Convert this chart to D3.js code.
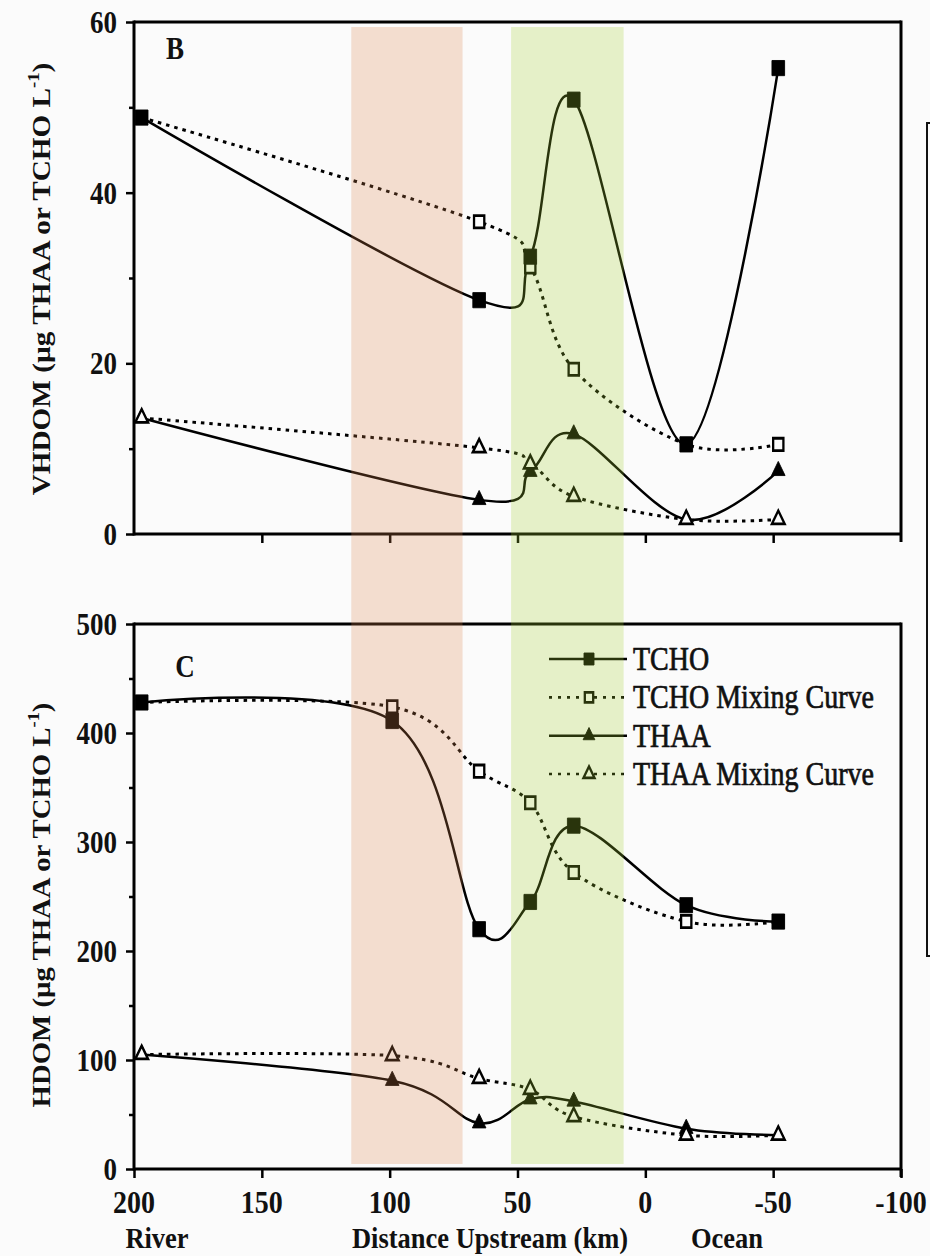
<!DOCTYPE html>
<html>
<head>
<meta charset="utf-8">
<script src="https://cdn.jsdelivr.net/npm/d3@7"></script>
<style>
  body { margin: 0; background: #fbfbfb; }
  svg { display: block; }
</style>
</head>
<body>
<script>
// ---- Panel B (VHDOM) ----
const distB      = [197, 65, 45, 28, -16, -52];
const tchoB      = [48.8, 27.4, 32.5, 50.9, 10.5, 54.6];
const tchoMixB   = [48.8, 36.6, 31.3, 19.3, 10.5, 10.5];
const thaaB      = [13.6, 4.0, 7.3, 11.7, 1.7, 7.4];
const thaaMixB   = [13.6, 10.1, 8.2, 4.4, 1.7, 1.7];

// ---- Panel C (HDOM) ----
const distC      = [197, 99, 65, 45, 28, -16, -52];
const tchoC      = [428, 411, 220, 245, 315, 242, 227];
const tchoMixC   = [428, 424, 365, 336, 272, 227, 227];
const thaaC      = [105, 81, 42, 64, 62, 37, 31];
const thaaMixC   = [105, 104, 83, 73, 48, 31, 31];

// ---- Axes ----
const xTickValues  = [200, 150, 100, 50, 0, -50, -100];
const xTickLabels  = ["200", "150", "100", "50", "0", "-50", "-100"];
const xCaptions    = ["River", "Distance Upstream (km)", "Ocean"];
const yMajorB = [0, 20, 40, 60];
const yMinorB = [10, 30, 50];
const yMajorC = [0, 100, 200, 300, 400, 500];
const yMinorC = [50, 150, 250, 350, 450];

// ---- Highlighted river reaches (km upstream) ----
const reachPeach = [115, 71.5];
const reachGreen = [52.5, 8.5];

const legendLabels = ["TCHO", "TCHO Mixing Curve", "THAA", "THAA Mixing Curve"];

const W = 930, H = 1256;
const FONT = "'Liberation Serif', 'Times New Roman', serif";
const STRETCH = 1.2;   // glyphs and markers are drawn taller than wide

const svg = d3.select("body").append("svg").attr("width", W).attr("height", H);
svg.append("rect").attr("width", W).attr("height", H).attr("fill", "#fbfbfb");

const x = d3.scaleLinear().domain([200, -100]).range([134, 901]);

// horizontal text, stretched vertically about its baseline
function label(g, tx, ty, str, size, opts = {}) {
  const t = g.append("g")
    .attr("transform", `translate(${tx},${ty}) scale(1,${opts.stretch || STRETCH})`)
    .append("text")
    .attr("text-anchor", opts.anchor || "middle")
    .attr("font-family", FONT).attr("font-size", size)
    .attr("font-weight", opts.weight || "bold")
    .attr("fill", "#111")
    .text(str);
  if (opts.stroke) t.attr("stroke", "#111").attr("stroke-width", opts.stroke);
  return t;
}

const panels = [
  {
    y: d3.scaleLinear().domain([0, 60]).range([534, 22]),
    dist: distB,
    tcho: tchoB, tchoMix: tchoMixB, thaa: thaaB, thaaMix: thaaMixB,
    major: yMajorB, minor: yMinorB,
    letter: "B", letterPos: [175, 59],
    title: "VHDOM (µg THAA or TCHO L", titleLen: 433, titlePos: [50, 279],
    labels: false
  },
  {
    y: d3.scaleLinear().domain([0, 500]).range([1169, 624]),
    dist: distC,
    tcho: tchoC, tchoMix: tchoMixC, thaa: thaaC, thaaMix: thaaMixC,
    major: yMajorC, minor: yMinorC,
    letter: "C", letterPos: [185, 677],
    title: "HDOM (µg THAA or TCHO L", titleLen: 405, titlePos: [50, 905],
    labels: true
  }
];

function drawMarker(g, type, filled, cx, cy, big) {
  const size = type === "square"
    ? (filled ? (big ? 160 : 100) : (big ? 105 : 70))
    : (filled ? (big ? 80 : 60) : (big ? 70 : 52));
  const sym = type === "square" ? d3.symbolSquare : d3.symbolTriangle;
  g.append("path")
    .attr("d", d3.symbol(sym, size)())
    .attr("transform", `translate(${cx},${cy}) scale(1,${STRETCH})`)
    .attr("fill", filled ? "#000" : "#fbfbfb")
    .attr("stroke", "#000")
    .attr("stroke-width", filled ? 0.8 : 2.3);
}

panels.forEach(p => {
  const g = svg.append("g");
  const [y0, y1] = p.y.range();
  const left = x.range()[0], right = x.range()[1];

  // minor y ticks
  const gm = g.append("g").attr("transform", `translate(${left},0)`)
    .call(d3.axisLeft(p.y).tickValues(p.minor).tickSize(5).tickFormat(""));
  gm.select(".domain").remove();
  gm.selectAll("line").attr("stroke", "#000").attr("stroke-width", 2.5);

  // major y ticks
  const gy = g.append("g").attr("transform", `translate(${left},0)`)
    .call(d3.axisLeft(p.y).tickValues(p.major).tickSize(8).tickFormat(""));
  gy.select(".domain").remove();
  gy.selectAll("line").attr("stroke", "#000").attr("stroke-width", 2.5);
  p.major.forEach(v => label(g, left - 17, p.y(v) + 11, d3.format("d")(v), 27, { anchor: "end" }));

  // x ticks
  const xVals = p.labels ? xTickValues : xTickValues.slice(1, 6);
  const gx = g.append("g").attr("transform", `translate(0,${y0})`)
    .call(d3.axisBottom(x).tickValues(xVals).tickSize(9).tickFormat(""));
  gx.select(".domain").remove();
  gx.selectAll("line").attr("stroke", "#000").attr("stroke-width", 2.5);
  if (p.labels) {
    xTickValues.forEach((v, i) => label(g, x(v), 1213, xTickLabels[i], 28, { stretch: 1.15 }));
  }

  // frame
  const frame = g.append("g").attr("stroke", "#000").attr("fill", "none");
  frame.append("line").attr("x1", left).attr("x2", left).attr("y1", y1 - 1.5).attr("y2", y0 + 1.5).attr("stroke-width", 3);
  frame.append("line").attr("x1", left).attr("x2", right).attr("y1", y1).attr("y2", y1).attr("stroke-width", 3.2);
  frame.append("line").attr("x1", left).attr("x2", right).attr("y1", y0).attr("y2", y0).attr("stroke-width", 3.2);
  frame.append("line").attr("x1", right).attr("x2", right).attr("y1", y1 - 1.5).attr("y2", y0 + 8).attr("stroke-width", 3);

  // series: THAA under TCHO
  const series = [
    { vals: p.thaa,    dotted: false, type: "triangle", filled: true  },
    { vals: p.thaaMix, dotted: true,  type: "triangle", filled: false },
    { vals: p.tchoMix, dotted: true,  type: "square",   filled: false },
    { vals: p.tcho,    dotted: false, type: "square",   filled: true  }
  ];
  const line = d3.line()
    .x(d => x(d[0])).y(d => p.y(d[1]))
    .curve(d3.curveCardinal.tension(0));

  series.forEach(s => {
    const pts = p.dist.map((d, i) => [d, s.vals[i]]);
    g.append("path").attr("d", line(pts))
      .attr("fill", "none").attr("stroke", "#000")
      .attr("stroke-width", s.dotted ? 3 : 2.5)
      .attr("stroke-dasharray", s.dotted ? "3.5,5" : null);
  });
  series.forEach(s => {
    p.dist.forEach((d, i) => drawMarker(g, s.type, s.filled, x(d), p.y(s.vals[i]), true));
  });

  // panel letter
  label(g, p.letterPos[0], p.letterPos[1], p.letter, 27);

  // y title, stretched along its length
  const tg = g.append("g");
  const t = tg.append("text")
    .attr("text-anchor", "middle").attr("font-family", FONT)
    .attr("font-size", 25).attr("font-weight", "bold").attr("fill", "#111");
  t.append("tspan").text(p.title);
  t.append("tspan").attr("dy", -11).attr("font-size", 16).text("-1");
  t.append("tspan").attr("dy", 11).text(")");
  const natural = t.node().getComputedTextLength();
  tg.attr("transform",
    `translate(${p.titlePos[0]},${p.titlePos[1]}) rotate(-90) scale(${p.titleLen / natural},1)`);
});

// captions under the distance axis
const captionX = [157, 490, 727];
xCaptions.forEach((c, i) => label(svg, captionX[i], 1248, c, 26.5, { stretch: 1.1 }));

// legend (panel C)
const legendStyles = [
  { dotted: false, type: "square",   filled: true  },
  { dotted: true,  type: "square",   filled: false },
  { dotted: false, type: "triangle", filled: true  },
  { dotted: true,  type: "triangle", filled: false }
];
const lg = svg.append("g");
const legendY = d3.scalePoint().domain(legendLabels).range([659, 774]);
legendLabels.forEach((lab, i) => {
  const st = legendStyles[i];
  const cy = legendY(lab);
  lg.append("line").attr("x1", 549).attr("x2", 627).attr("y1", cy).attr("y2", cy)
    .attr("stroke", "#000").attr("stroke-width", st.dotted ? 2.6 : 2.5)
    .attr("stroke-dasharray", st.dotted ? "3,6" : null);
  drawMarker(lg, st.type, st.filled, 589, cy, false);
  label(lg, 633, cy + 11, lab, 28, { anchor: "start", weight: "normal", stroke: 0.6 });
});

// highlighted reaches, laid over the whole figure as translucent washes
const bandTop = 27, bandBottom = 1164;
[[reachPeach, "rgb(219,131,75)"], [reachGreen, "rgb(163,207,47)"]].forEach(([r, c]) => {
  svg.append("rect")
    .attr("x", x(r[0])).attr("width", x(r[1]) - x(r[0]))
    .attr("y", bandTop).attr("height", bandBottom - bandTop)
    .attr("fill", c).attr("opacity", 0.25);
});

// box at the right margin
svg.append("rect").attr("x", 927).attr("y", 123).attr("width", 30).attr("height", 833)
  .attr("fill", "none").attr("stroke", "#111").attr("stroke-width", 2);
</script>
</body>
</html>
